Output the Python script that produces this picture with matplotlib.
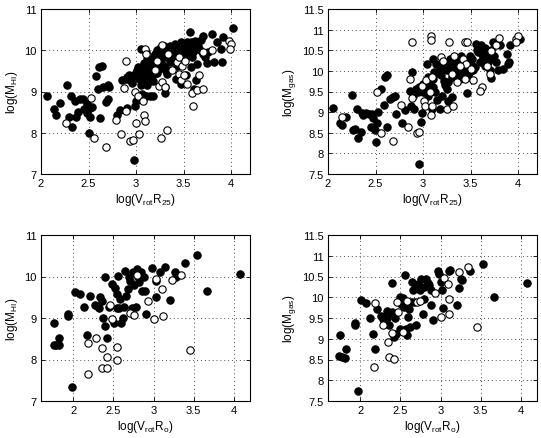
import matplotlib
matplotlib.use("Agg")
import matplotlib.pyplot as plt

plt.rcParams['font.family'] = ['Liberation Sans', 'DejaVu Sans']
plt.rcParams['mathtext.default'] = 'regular'

# ---------------- Panel 1: log(M_HI) vs log(Vrot R25) ----------------
p1_fill_x = [2.06, 2.14, 2.16, 2.20, 2.27, 2.32, 2.30, 2.33, 2.36, 2.37, 2.39, 2.41, 2.44, 2.45,
             2.48, 2.48, 2.52, 2.52, 2.54, 2.50, 2.58, 2.60, 2.61, 2.64, 2.62, 2.65, 2.68, 2.70,
             2.71, 2.72, 2.80, 2.83, 2.85, 2.91, 2.98, 2.99, 3.00, 3.06, 3.08, 3.11, 3.15, 3.18,
             2.89, 2.91, 2.94, 2.96, 2.99, 3.01, 3.03, 3.05, 3.06, 3.08, 3.10, 3.12, 3.13, 3.15,
             3.05, 3.10, 3.12, 3.17, 3.19, 3.20, 3.22, 3.24, 3.26, 3.27, 3.29, 3.31, 3.33, 3.34,
             3.36, 3.38, 3.40, 3.41, 3.43, 3.45, 3.47, 3.48, 3.30, 3.31, 3.42, 3.47, 3.50, 3.54,
             3.57, 3.56, 3.59, 3.61, 3.62, 3.63, 3.64, 3.67, 3.71, 3.73, 3.75, 3.76, 3.80, 3.82,
             3.85, 3.89, 3.90, 3.92, 4.02, 3.61, 3.33, 3.24, 3.19, 3.15,
             3.00, 3.02, 3.05, 3.08, 3.10, 3.13, 3.15, 3.18, 3.20, 3.22, 3.25, 3.27, 3.28, 3.30,
             3.32, 3.35, 3.36, 3.38, 3.40, 3.42, 3.44, 3.46, 3.48, 3.50, 3.52, 3.55, 3.58, 3.60,
             3.65, 3.68, 3.70, 3.58, 3.53, 2.96, 2.93, 3.12, 3.18]
p1_fill_y = [8.88, 8.58, 8.44, 8.72, 9.16, 8.89, 8.38, 8.15, 8.76, 8.38, 8.50, 8.82, 8.83, 8.58,
             8.70, 8.48, 8.60, 8.38, 8.62, 7.99, 9.37, 9.06, 9.60, 9.62, 8.36, 9.12, 8.74, 8.82,
             9.16, 9.10, 8.42, 8.54, 9.28, 8.60, 7.34, 8.64, 8.78, 8.94, 8.89, 8.89, 8.88, 8.88,
             9.31, 9.35, 9.27, 9.35, 9.43, 9.51, 9.31, 9.16, 9.39, 9.27, 9.51, 9.63, 9.39, 9.31,
             10.03, 9.95, 9.79, 9.75, 9.87, 9.63, 10.00, 9.83, 9.71, 9.95, 10.11, 9.59, 9.83, 10.00,
             9.71, 10.07, 9.87, 10.15, 9.63, 9.95, 10.19, 9.79, 8.96, 9.10, 9.31, 9.19, 10.00, 10.19,
             10.45, 9.92, 9.83, 10.11, 10.23, 9.27, 9.67, 10.00, 10.35, 9.83, 9.69, 9.95, 10.40, 9.71,
             10.19, 10.03, 9.71, 10.31, 10.53, 9.06, 9.43, 9.55, 9.43, 9.63,
             9.45, 9.60, 9.55, 9.70, 9.40, 9.80, 9.55, 9.70, 9.90, 9.45, 10.05, 9.65, 9.85, 10.00,
             9.50, 9.90, 10.10, 9.80, 10.05, 9.90, 10.10, 9.70, 10.00, 10.15, 9.85, 10.05, 10.20, 9.95,
             10.10, 10.25, 9.90, 9.60, 9.40, 9.20, 9.40, 9.15, 9.25]
p1_open_x = [2.26, 2.53, 2.56, 2.68, 2.79, 2.84, 2.87, 2.89, 2.89, 2.94, 2.97, 2.99, 3.00, 3.02,
             3.03, 3.07, 3.08, 3.09, 3.09, 3.11, 3.20, 3.24, 3.26, 3.27, 3.27, 3.30, 3.33, 3.38,
             3.43, 3.45, 3.47, 3.48, 3.50, 3.54, 3.59, 3.60, 3.64, 3.66, 3.70, 3.71, 3.80, 3.98,
             4.00, 3.99, 3.45, 3.52, 3.34, 3.22]
p1_open_y = [8.23, 8.84, 7.88, 7.66, 8.32, 7.96, 9.08, 9.75, 8.52, 7.80, 7.82, 8.98, 8.24, 8.88,
             7.98, 8.77, 8.42, 8.29, 10.02, 9.91, 9.51, 9.13, 7.87, 10.13, 9.24, 9.10, 8.06, 9.51,
             9.71, 9.43, 9.27, 9.63, 9.39, 9.19, 8.96, 8.66, 9.04, 9.40, 9.06, 9.95, 10.00, 10.22,
             10.14, 10.03, 9.83, 9.75, 9.91, 9.75]

# ---------------- Panel 2: log(M_gas) vs log(Vrot R25) ----------------
p2_fill_x = [2.05, 2.13, 2.15, 2.19, 2.25, 2.26, 2.28, 2.31, 2.32, 2.35, 2.36, 2.37, 2.40, 2.43,
             2.45, 2.46, 2.47, 2.49, 2.50, 2.52, 2.53, 2.56, 2.59, 2.60, 2.62, 2.62, 2.65, 2.68,
             2.70, 2.72, 2.78, 2.81, 2.86, 2.88, 2.87, 2.89, 2.91, 2.96, 2.98, 2.99, 3.04, 3.05,
             3.09, 3.11, 3.46, 2.93, 2.95, 2.96, 3.00, 3.04, 3.07, 3.11, 3.12, 3.14, 3.18, 3.19,
             3.21, 3.25, 3.26, 3.28, 3.30, 3.32, 3.33, 3.35, 3.37, 3.39, 3.40, 3.42, 3.44, 3.46,
             3.47, 3.49, 3.51, 3.53, 3.56, 3.58, 3.60, 3.61, 3.63, 3.65, 3.67, 3.68, 3.70, 3.72,
             3.74, 3.75, 3.77, 3.79, 3.81, 3.84, 3.88, 3.89, 3.91, 3.92, 4.02, 3.18, 3.26, 3.30,
             3.13, 3.23,
             3.15, 3.20, 3.22, 3.28, 3.30, 3.34, 3.38, 3.40, 3.43, 3.46, 3.48, 3.52, 3.55, 3.57,
             3.62, 3.65, 3.70, 3.72, 3.10, 3.05, 3.00, 3.15, 3.20, 3.25]
p2_fill_y = [9.10, 8.73, 8.69, 8.88, 9.42, 8.57, 8.60, 9.08, 8.37, 8.52, 8.98, 8.92, 8.98, 8.95,
             8.64, 8.95, 8.85, 8.56, 8.27, 8.73, 9.00, 9.56, 9.18, 9.85, 9.89, 8.65, 9.32, 9.36,
             9.40, 8.96, 8.74, 9.04, 9.52, 9.97, 9.16, 9.38, 9.08, 7.75, 8.76, 8.98, 10.17, 9.40,
             9.08, 10.29, 9.46, 9.56, 9.48, 9.60, 9.68, 9.56, 9.72, 9.81, 9.97, 10.17, 10.05, 9.89,
             10.21, 10.01, 9.73, 10.29, 10.13, 9.89, 10.33, 10.05, 10.21, 9.81, 10.13, 9.97, 10.25, 10.09,
             9.85, 10.37, 10.17, 10.01, 10.66, 10.45, 10.21, 10.62, 10.33, 10.13, 10.45, 10.21, 10.01, 9.83,
             10.70, 10.37, 10.21, 10.01, 10.62, 10.05, 10.41, 10.17, 10.21, 10.62, 10.77, 9.08, 9.28, 9.36,
             9.48, 9.65,
             9.95, 10.10, 9.75, 10.15, 9.85, 10.20, 9.95, 10.35, 10.05, 10.25, 9.95, 10.30, 10.10, 10.50,
             10.40, 10.55, 10.30, 10.50, 9.60, 9.85, 9.50, 9.30, 9.40, 9.55]
p2_open_x = [2.15, 2.52, 2.56, 2.68, 2.77, 2.84, 2.86, 2.88, 2.88, 2.94, 2.96, 2.99, 3.01, 3.02,
             3.03, 3.08, 3.08, 3.09, 3.08, 3.07, 3.09, 3.19, 3.21, 3.25, 3.27, 3.30, 3.32, 3.33,
             3.36, 3.42, 3.44, 3.45, 3.46, 3.44, 3.53, 3.62, 3.60, 3.67, 3.70, 3.72, 3.77, 3.80,
             3.98, 4.00, 3.98, 3.51, 3.39]
p2_open_y = [8.88, 9.48, 8.50, 8.31, 9.18, 8.64, 9.81, 10.69, 9.35, 8.49, 8.53, 9.63, 9.28, 9.16,
             9.78, 10.85, 10.75, 9.16, 8.92, 9.48, 9.85, 10.33, 10.25, 9.08, 10.69, 9.93, 9.16, 10.37,
             9.73, 10.29, 10.69, 10.17, 10.69, 9.81, 9.77, 9.60, 9.52, 10.13, 9.93, 10.49, 10.62, 10.79,
             10.77, 10.85, 10.69, 10.05, 10.13]

# ---------------- Panel 3: log(M_HI) vs log(Vrot Ro) ----------------
p3_fill_x = [1.76, 1.79, 1.82, 1.83, 1.76, 1.94, 1.94, 1.98, 2.02, 2.09, 2.14, 2.17, 2.21, 2.27,
             2.30, 2.32, 2.34, 2.36, 2.37, 2.40, 2.40, 2.42, 2.44, 2.48, 2.51, 2.54, 2.54, 2.56,
             2.58, 2.60, 2.62, 2.63, 2.64, 2.66, 2.68, 2.69, 2.71, 2.73, 2.74, 2.76, 2.78, 2.79,
             2.81, 2.82, 2.84, 2.86, 2.88, 2.89, 2.91, 2.98, 3.03, 3.03, 3.08, 3.14, 3.21, 3.27,
             3.28, 3.39, 3.54, 3.66, 4.07, 2.52, 2.57]
p3_fill_y = [8.34, 8.36, 8.35, 8.52, 8.87, 9.10, 9.05, 7.34, 9.63, 9.57, 9.27, 8.58, 9.53, 9.31,
             9.29, 9.25, 9.51, 9.40, 8.99, 8.81, 9.98, 8.52, 9.27, 9.81, 8.87, 9.57, 9.25, 10.02,
             9.45, 8.87, 9.01, 9.27, 10.14, 9.53, 9.69, 10.00, 9.90, 9.25, 10.10, 9.79, 9.27, 10.18,
             9.98, 9.86, 10.10, 9.65, 10.00, 9.65, 9.10, 10.20, 9.90, 9.51, 10.12, 10.24, 9.43, 10.11,
             10.00, 10.32, 10.53, 9.65, 10.06, 9.73, 9.25]
p3_open_x = [2.18, 2.19, 2.29, 2.36, 2.36, 2.42, 2.42, 2.46, 2.48, 2.54, 2.54, 2.71, 2.76, 2.93,
             3.00, 3.03, 3.10, 3.12, 3.23, 3.34, 3.45, 2.79]
p3_open_y = [8.39, 7.66, 8.52, 8.28, 7.80, 8.06, 7.80, 9.31, 8.98, 8.31, 7.98, 9.13, 9.07, 9.41,
             8.97, 9.95, 9.71, 9.05, 9.92, 10.03, 8.24, 10.03]

# ---------------- Panel 4: log(M_gas) vs log(Vrot Ro) ----------------
p4_fill_x = [1.74, 1.75, 1.77, 1.81, 1.82, 1.93, 1.93, 1.97, 2.01, 2.07, 2.12, 2.16, 2.19, 2.21,
             2.26, 2.28, 2.31, 2.33, 2.34, 2.36, 2.35, 2.39, 2.40, 2.42, 2.43, 2.45, 2.49, 2.50,
             2.51, 2.53, 2.54, 2.56, 2.57, 2.58, 2.60, 2.61, 2.62, 2.63, 2.65, 2.66, 2.67, 2.69,
             2.70, 2.72, 2.74, 2.76, 2.78, 2.79, 2.80, 2.82, 2.84, 2.86, 2.88, 2.88, 2.90, 2.97,
             2.98, 3.01, 3.02, 3.03, 3.11, 3.12, 3.21, 3.23, 3.25, 3.27, 3.37, 3.53, 3.67, 4.07]
p4_fill_y = [8.59, 9.08, 8.55, 8.53, 8.75, 9.37, 9.32, 7.73, 9.93, 9.86, 9.50, 9.12, 8.75, 9.71,
             9.56, 9.48, 9.52, 9.68, 9.50, 9.32, 9.60, 9.64, 10.34, 9.05, 9.50, 9.12, 10.01, 9.24,
             9.84, 9.97, 9.76, 10.53, 9.24, 9.09, 9.52, 9.72, 9.28, 9.89, 10.37, 10.17, 9.88, 10.29,
             9.32, 10.33, 10.17, 10.45, 9.60, 9.96, 10.25, 10.45, 10.34, 10.29, 9.82, 10.17, 9.46, 10.63,
             10.57, 10.37, 10.17, 9.74, 10.63, 10.65, 9.82, 10.22, 10.45, 10.42, 10.63, 10.79, 10.01, 10.35]
p4_open_x = [2.19, 2.17, 2.28, 2.35, 2.36, 2.40, 2.42, 2.46, 2.47, 2.53, 2.58, 2.71, 2.74, 2.93,
             3.00, 3.04, 3.09, 3.10, 3.10, 3.23, 3.34, 3.45]
p4_open_y = [9.86, 8.32, 9.34, 8.93, 8.55, 9.14, 8.51, 9.88, 9.64, 9.17, 9.92, 9.88, 9.92, 10.11,
             9.52, 10.47, 10.31, 9.95, 9.60, 10.61, 10.73, 9.28]

# ---------------- labels / ticks ----------------
xlabel_r25 = r'log(V$_{rot}$R$_{25}$)'
xlabel_ro = r'log(V$_{rot}$R$_{o}$)'
ylabel_hi = r'log(M$_{HI}$)'
ylabel_gas = r'log(M$_{gas}$)'
xticks = [2, 2.5, 3, 3.5, 4]
xticklabels = ['2', '2.5', '3', '3.5', '4']
yticks_hi = [7, 8, 9, 10, 11]
yticklabels_hi = ['7', '8', '9', '10', '11']
yticks_gas = [7.5, 8, 8.5, 9, 9.5, 10, 10.5, 11, 11.5]
yticklabels_gas = ['7.5', '8', '8.5', '9', '9.5', '10', '10.5', '11', '11.5']

W, H = 541, 439
fig = plt.figure(figsize=(W / 100, H / 100), dpi=100)

def rect(l, r, t, b):
    return [l / W, 1 - b / H, (r - l) / W, (b - t) / H]

panels = [
    (rect(41, 250, 10, 175), p1_fill_x, p1_fill_y, p1_open_x, p1_open_y, (2, 4.2), (7, 11),
     yticks_hi, yticklabels_hi, xlabel_r25, ylabel_hi),
    (rect(328, 537, 10, 175), p2_fill_x, p2_fill_y, p2_open_x, p2_open_y, (2, 4.2), (7.5, 11.5),
     yticks_gas, yticklabels_gas, xlabel_r25, ylabel_gas),
    (rect(41, 250, 236, 402), p3_fill_x, p3_fill_y, p3_open_x, p3_open_y, (1.6, 4.2), (7, 11),
     yticks_hi, yticklabels_hi, xlabel_ro, ylabel_hi),
    (rect(328, 537, 236, 402), p4_fill_x, p4_fill_y, p4_open_x, p4_open_y, (1.6, 4.2), (7.5, 11.5),
     yticks_gas, yticklabels_gas, xlabel_ro, ylabel_gas),
]

for (r, fx, fy, ox, oy, xl, yl, yt, ytl, xlab, ylab) in panels:
    ax = fig.add_axes(r)
    ax.plot(fx, fy, 'o', ms=5.3, mfc='black', mec='black', mew=0.8, ls='none', zorder=3)
    ax.plot(ox, oy, 'o', ms=5.3, mfc='white', mec='black', mew=0.8, ls='none', zorder=3)
    ax.set_xlim(*xl)
    ax.set_ylim(*yl)
    ax.set_xticks(xticks)
    ax.set_xticklabels(xticklabels)
    ax.set_yticks(yt)
    ax.set_yticklabels(ytl)
    ax.grid(True, ls=(0, (1.0, 3.0)), color='0.3', lw=0.7)
    ax.set_axisbelow(True)
    ax.tick_params(direction='in', length=3, width=0.6, labelsize=8, pad=3,
                   top=True, right=True)
    for s in ax.spines.values():
        s.set_linewidth(0.8)
    ax.set_xlabel(xlab, fontsize=8.5, labelpad=2)
    ax.set_ylabel(ylab, fontsize=8.5, labelpad=3)

fig.savefig('out.png', dpi=100)
